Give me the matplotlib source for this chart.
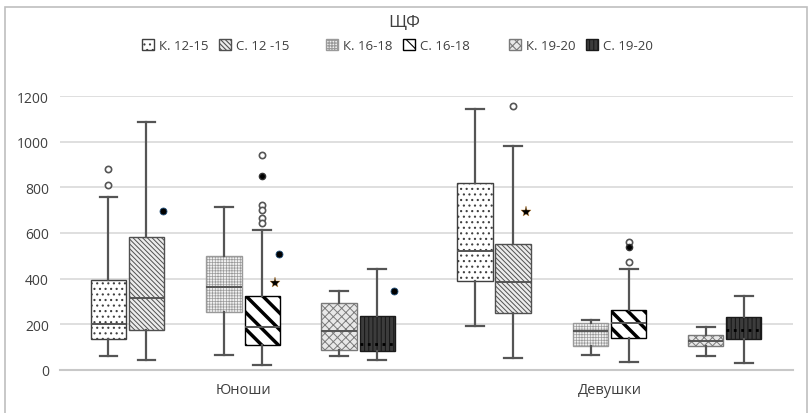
import matplotlib
matplotlib.use("Agg")
import matplotlib.pyplot as plt
from matplotlib.patches import Patch, Rectangle

plt.rcParams["font.family"] = ["Open Sans", "DejaVu Sans"]
plt.rcParams["hatch.linewidth"] = 0.8

# data
groups = ["Юноши", "Девушки"]
series = ["К. 12-15", "С. 12 -15", "К. 16-18", "С. 16-18", "К. 19-20", "С. 19-20"]
offsets = [-0.368, -0.264, -0.052, 0.052, 0.262, 0.366]

# order: Юноши (6 series), then Девушки (6 series)
whislo = [61, 44, 64, 23, 61, 44, 194, 51, 66, 33, 60, 29]
q1 = [136, 176, 255, 109, 89, 83, 388, 249, 104, 139, 104, 136]
med = [200, 315, 362, 187, 171, 114, 522, 385, 169, 205, 128, 176]
q3 = [392, 582, 499, 322, 292, 235, 818, 553, 204, 264, 155, 230]
whishi = [756, 1084, 712, 614, 344, 442, 1142, 982, 220, 442, 187, 325]

# open circle outliers (box index, value)
out_open = [(0, 880), (0, 812), (3, 941), (3, 722), (3, 701), (3, 667), (3, 643),
            (7, 1157), (9, 559), (9, 473)]
# filled outliers
out_filled = [(3, 850), (9, 538)]
# black dots drawn right of the box
side_dots = [(1, 696), (3, 506), (5, 344)]
# star markers
stars = [(3, 381), (7, 691)]

faces = ["white", "#ececec", "#f0f0f0", "white", "#e8e8e8", "#3c3c3c"]
hatches = ["...", "\\\\\\\\\\\\\\", "++++++", "\\\\", "xxxx", "||||"]
hatch_cols = ["#404040", "#505050", "#9a9a9a", "black", "#7a7a7a", "#1a1a1a"]
hatch_lw = [0.8, 0.7, 0.5, 2.5, 0.7, 0.8]

fig = plt.figure(figsize=(8.09, 4.14), dpi=100)
ax = fig.add_axes([0.0742, 0.1039, 0.9058, 0.6618])

positions = []
stats = []
for g in range(len(groups)):
    for s in range(len(series)):
        i = g * len(series) + s
        positions.append(g + offsets[s])
        stats.append(dict(whislo=whislo[i], q1=q1[i], med=med[i], q3=q3[i],
                          whishi=whishi[i], fliers=[]))

bp = ax.bxp(stats, positions=positions, widths=0.097, patch_artist=True,
            showfliers=False,
            whiskerprops=dict(color="#555555", lw=1.6),
            capprops=dict(color="#555555", lw=1.6),
            medianprops=dict(color="#555555", lw=1.4),
            boxprops=dict(lw=1.0))
for i, box in enumerate(bp["boxes"]):
    s = i % len(series)
    box.set_facecolor(faces[s])
    box.set_edgecolor(hatch_cols[s])
    box.set_hatch(hatches[s])
    if hasattr(box, "set_hatch_linewidth"):
        box.set_hatch_linewidth(hatch_lw[s])
    if s == 5:
        bp["medians"][i].set_color("black")
        bp["medians"][i].set_linestyle(":")
        bp["medians"][i].set_linewidth(2)

ax.plot([positions[i] for i, v in out_open], [v for i, v in out_open], "o",
        ms=4.5, mfc="white", mec="#555555", mew=1.2, ls="none")
ax.plot([positions[i] for i, v in out_filled], [v for i, v in out_filled], "o",
        ms=4.5, mfc="black", mec="#333333", ls="none")
ax.plot([positions[i] + 0.045 for i, v in side_dots], [v for i, v in side_dots], "o",
        ms=5, mfc="black", mec="#1f4e79", mew=0.6, ls="none")
ax.plot([positions[i] + 0.035 for i, v in stars], [v for i, v in stars], "*",
        ms=8, mfc="black", mec="#c08030", mew=0.3, ls="none")

ax.set_xlim(-0.5, 1.5)
ax.set_ylim(0, 1200)
ax.set_yticks(range(0, 1201, 200))
ax.set_xticks([0, 1])
ax.set_xticklabels(groups, fontsize=10.5, color="#404040")
ax.tick_params(axis="y", length=0, labelsize=10, colors="#404040", pad=8)
ax.tick_params(axis="x", length=0, pad=9)
ax.grid(axis="y", color="#d9d9d9", lw=1.2)
ax.set_axisbelow(True)
for side in ["left", "right", "top"]:
    ax.spines[side].set_visible(False)
ax.spines["bottom"].set_color("#c8c8c8")
ax.spines["bottom"].set_linewidth(1.5)

handles = []
for s in range(len(series)):
    p = Patch(facecolor=faces[s], edgecolor=hatch_cols[s], hatch=hatches[s], lw=1.0)
    handles.append(p)
# legend drawn as three pairs, like the reference
pair_x = [0.267, 0.492, 0.718]
for k in range(3):
    leg = fig.legend(handles[2 * k:2 * k + 2], series[2 * k:2 * k + 2], loc="center",
                     bbox_to_anchor=(pair_x[k], 0.888), ncol=2, frameon=False,
                     fontsize=9.5, handlelength=0.9, handleheight=0.9,
                     handletextpad=0.4, columnspacing=0.8, labelcolor="#404040")

fig.text(0.5, 0.945, "ЩФ", ha="center", va="center", fontsize=12.5, color="#404040")

fig.patches.append(Rectangle((0.006, -0.01), 0.992, 0.99, transform=fig.transFigure,
                             fill=False, edgecolor="#bfbfbf", lw=1.2))

fig.savefig("out.png", dpi=100)
